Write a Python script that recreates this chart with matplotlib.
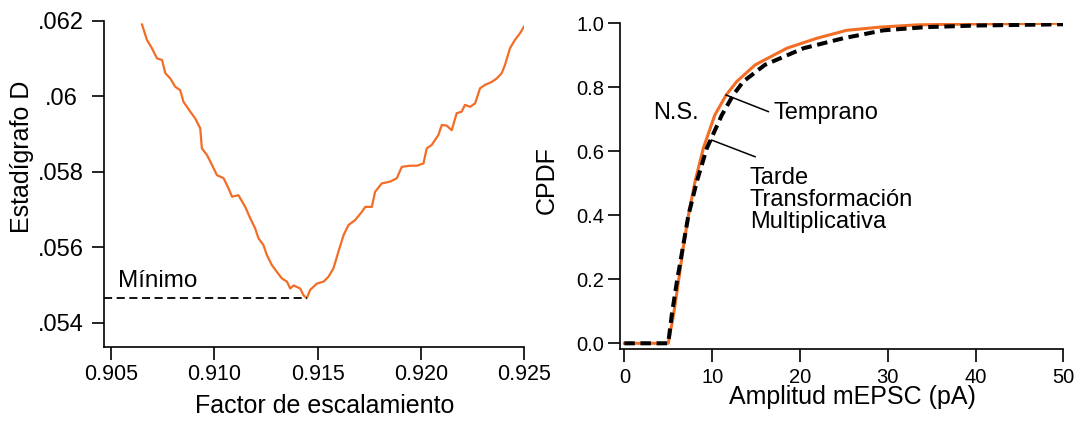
import matplotlib
matplotlib.use('Agg')
import matplotlib.pyplot as plt

plt.rcParams['font.family'] = ['Liberation Sans', 'DejaVu Sans']

ORANGE = '#F26D25'
FIGSIZE = (10.8, 4.22)

# D statistic vs scaling factor
scale_factor = [0.90650, 0.90674, 0.90698, 0.90723, 0.90747, 0.90763, 0.90787, 0.90811,
                0.90835, 0.90851, 0.90884, 0.90908, 0.90932, 0.90940, 0.90965, 0.90989,
                0.91013, 0.91045, 0.91069, 0.91086, 0.91117, 0.91150, 0.91174, 0.91198,
                0.91214, 0.91238, 0.91255, 0.91279, 0.91303, 0.91327, 0.91352, 0.91368,
                0.91384, 0.91400, 0.91416, 0.91432, 0.91448, 0.91464, 0.91497, 0.91529,
                0.91553, 0.91577, 0.91601, 0.91626, 0.91650, 0.91682, 0.91715, 0.91731,
                0.91763, 0.91779, 0.91811, 0.91852, 0.91884, 0.91908, 0.91948, 0.91981,
                0.92013, 0.92029, 0.92053, 0.92085, 0.92102, 0.92126, 0.92150, 0.92174,
                0.92198, 0.92214, 0.92239, 0.92263, 0.92287, 0.92311, 0.92344, 0.92368,
                0.92392, 0.92408, 0.92432, 0.92456, 0.92481, 0.92505]
d_stat = [0.06190, 0.06149, 0.06127, 0.06100, 0.06096, 0.06061, 0.06047, 0.06025,
          0.06016, 0.05985, 0.05959, 0.05941, 0.05915, 0.05862, 0.05844, 0.05818,
          0.05791, 0.05783, 0.05756, 0.05734, 0.05738, 0.05707, 0.05677, 0.05650,
          0.05624, 0.05606, 0.05579, 0.05553, 0.05535, 0.05518, 0.05509, 0.05491,
          0.05499, 0.05495, 0.05491, 0.05473, 0.05465, 0.05487, 0.05504, 0.05509,
          0.05522, 0.05544, 0.05588, 0.05632, 0.05659, 0.05672, 0.05694, 0.05707,
          0.05707, 0.05747, 0.05769, 0.05774, 0.05783, 0.05813, 0.05816, 0.05816,
          0.05822, 0.05862, 0.05871, 0.05897, 0.05924, 0.05922, 0.05910, 0.05955,
          0.05959, 0.05977, 0.05972, 0.05981, 0.06021, 0.06030, 0.06038, 0.06047,
          0.06061, 0.06083, 0.06127, 0.06149, 0.06167, 0.06189]
D_MIN = 0.05465
D_TICKS = [0.054, 0.056, 0.058, 0.060, 0.062]
D_TICK_LABELS = ['.054', '.056', '.058', '.06', '.062']
SF_TICKS = [0.905, 0.910, 0.915, 0.920, 0.925]
SF_TICK_LABELS = ['0.905', '0.910', '0.915', '0.920', '0.925']

# cumulative distributions of mEPSC amplitude
early_amp = [0, 5.0, 5.6, 6.15, 6.7, 7.3, 8.05, 9.0, 10.3, 11.6, 12.8, 14.9, 18.5,
             21.9, 25.3, 29.1, 33.3, 40.0, 50.0]
early_cdf = [0, 0, 0.088, 0.19, 0.297, 0.40, 0.505, 0.61, 0.713, 0.776, 0.818, 0.87,
             0.922, 0.953, 0.978, 0.988, 0.995, 0.998, 1.0]
late_amp = [0, 5.0, 5.4, 5.97, 6.65, 7.3, 8.25, 9.4, 11.1, 12.4, 13.55, 16.0, 20.4,
            24.9, 29.5, 34.3, 40.0, 50.0]
late_cdf = [0, 0, 0.088, 0.19, 0.297, 0.40, 0.505, 0.61, 0.713, 0.776, 0.818, 0.87,
            0.922, 0.953, 0.978, 0.988, 0.993, 0.997]
AMP_TICKS = [0, 10, 20, 30, 40, 50]
CDF_TICKS = [0.0, 0.2, 0.4, 0.6, 0.8, 1.0]
CDF_TICK_LABELS = ['0.0', '0.2', '0.4', '0.6', '0.8', '1.0']


def style_axes(ax):
    for side in ('top', 'right'):
        ax.spines[side].set_visible(False)
    for side in ('left', 'bottom'):
        ax.spines[side].set_linewidth(1.2)
    ax.tick_params(length=9, width=1.2, direction='out')


fig = plt.figure(figsize=FIGSIZE, dpi=100)

# left panel: D statistic
ax1 = fig.add_axes([0.0963, 0.1777, 0.3889, 0.7733])
style_axes(ax1)
ax1.plot(scale_factor, d_stat, color=ORANGE, lw=1.6)
ax1.plot([0.90466, scale_factor[d_stat.index(min(d_stat))]], [D_MIN, D_MIN],
         color='black', lw=1.3, dashes=(4.5, 2.5))
ax1.text(0.90535, 0.054946, 'Mínimo', fontsize=17.5, va='baseline', ha='left')
ax1.set_xlim(0.90466, 0.925)
ax1.set_ylim(0.05336, 0.062)
ax1.set_xticks(SF_TICKS)
ax1.set_xticklabels(SF_TICK_LABELS, fontsize=15.5)
ax1.set_yticks(D_TICKS)
ax1.set_yticklabels(D_TICK_LABELS, fontsize=17, ha='center')
ax1.tick_params(axis='y', pad=22)
ax1.tick_params(axis='x', pad=3)
ax1.set_xlabel('Factor de escalamiento', fontsize=18)
ax1.xaxis.set_label_coords(0.526, -0.145)
ax1.set_ylabel('Estadígrafo D', fontsize=18)
ax1.yaxis.label.set_va('center')
ax1.yaxis.set_label_coords(-0.195, 0.582)

# right panel: CPDF
ax2 = fig.add_axes([0.5741, 0.1730, 0.4105, 0.7718])
style_axes(ax2)
ax2.plot(early_amp, early_cdf, color=ORANGE, lw=2.2)
ax2.plot(late_amp, late_cdf, color='black', lw=2.9, dashes=(2.6, 1.4))
ax2.set_xlim(-0.49, 50)
ax2.set_ylim(-0.0178, 1.0)
ax2.set_xticks(AMP_TICKS)
ax2.set_xticklabels([str(t) for t in AMP_TICKS], fontsize=14.5)
ax2.set_yticks(CDF_TICKS)
ax2.set_yticklabels(CDF_TICK_LABELS, fontsize=14.5)
ax2.tick_params(axis='y', pad=2.5)
ax2.tick_params(axis='x', pad=5)
ax2.set_xlabel('Amplitud mEPSC (pA)', fontsize=18)
ax2.xaxis.set_label_coords(0.5245, -0.112)
ax2.set_ylabel('CPDF', fontsize=18)
ax2.yaxis.label.set_va('center')
ax2.yaxis.set_label_coords(-0.165, 0.519)

ax2.plot([11.58, 16.4], [0.776, 0.724], color='black', lw=1.1)
ax2.plot([9.95, 14.89], [0.635, 0.583], color='black', lw=1.1)
ax2.text(16.94, 0.700, 'Temprano', fontsize=17, va='baseline', ha='left')
ax2.text(3.26, 0.700, 'N.S.', fontsize=17, va='baseline', ha='left')
ax2.text(14.3, 0.498, 'Tarde', fontsize=17, va='baseline', ha='left')
ax2.text(14.3, 0.429, 'Transformación', fontsize=17, va='baseline', ha='left')
ax2.text(14.3, 0.359, 'Multiplicativa', fontsize=17, va='baseline', ha='left')

fig.savefig('out.png', dpi=100)
